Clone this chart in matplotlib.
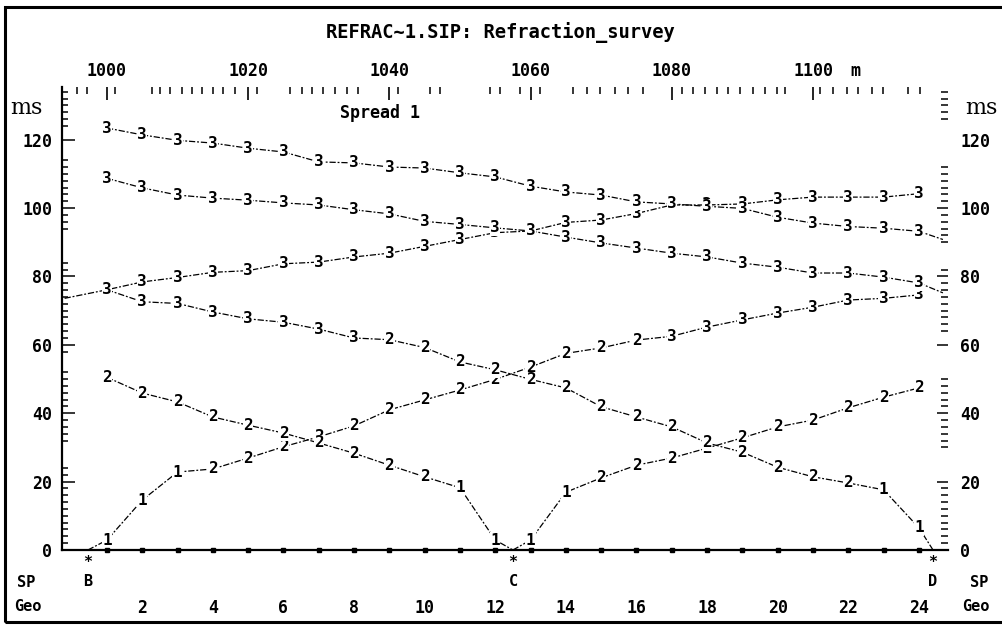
"""Refraction survey traveltime plot (first arrivals, spread 1).

Saves out.png: picks for each shot drawn as the refractor number (1/2/3)
joined by thin dashed lines, geophone stations along the bottom.
"""

import matplotlib

matplotlib.use("Agg")
import matplotlib.pyplot as plt
from matplotlib.patches import Rectangle

# --- data ---------------------------------------------------------------
# geophone stations, number and distance along the line (m)
GEO_NUM = [1, 2, 3, 4, 5, 6, 7, 8, 9, 10, 11, 12,
           13, 14, 15, 16, 17, 18, 19, 20, 21, 22, 23, 24]
GEO_X = [1000, 1005, 1010, 1015, 1020, 1025, 1030, 1035, 1040, 1045, 1050, 1055,
         1060, 1065, 1070, 1075, 1080, 1085, 1090, 1095, 1100, 1105, 1110, 1115]

# shot points inside the spread
SHOT_NAME = ["B", "C", "D"]
SHOT_X = [997.3, 1057.5, 1117.0]

# where the offset-shot branches leave the frame (m)
LEFT_EDGE_X = 994.0
RIGHT_EDGE_X = 1118.4

# traveltimes in ms; the digit string gives the refractor of each pick
# shot B -> forward, geophones 1..24
B_FWD_T = [2.9, 14.6, 22.8, 23.7, 26.9, 30.2, 33.1, 36.3, 41.0, 43.9, 46.8, 49.9,
           53.5, 57.5, 59.1, 61.4, 62.5, 65.2, 67.3, 69.3, 71.0, 73.1, 73.6, 74.6]
B_FWD_L = "111222222222222233333333"

# shot C -> reverse, geophones 1..12
C_REV_T = [50.5, 45.9, 43.3, 38.9, 36.5, 34.2, 31.3, 28.3, 24.8, 21.4, 18.2, 2.9]
C_REV_L = "222222222211"

# shot C -> forward, geophones 13..24
C_FWD_T = [2.9, 16.9, 21.1, 24.8, 26.9, 29.8, 32.8, 36.0, 38.0, 41.6, 44.7, 47.4]
C_FWD_L = "112222222222"

# shot D -> reverse, geophones 1..24
D_REV_T = [76.1, 72.6, 72.1, 69.6, 67.6, 66.6, 64.6, 62.0, 61.5, 59.2, 55.0, 52.7,
           49.9, 47.4, 41.9, 38.9, 36.0, 31.3, 28.6, 24.2, 21.4, 19.6, 17.6, 6.5]
D_REV_L = "333333332222222222222211"

# offset shot off the left end, geophones 1..24 (+ time at the frame edge)
W_FWD_T = [76.1, 78.4, 79.7, 81.2, 81.7, 83.7, 84.2, 85.7, 86.8, 88.8, 90.8, 92.8,
           93.3, 95.8, 96.5, 98.4, 100.9, 100.9, 101.2, 102.4, 103.2, 103.2, 103.2, 104.2]
W_EDGE_T = 73.6

# two offset shots off the right end, geophones 1..24 (+ time at the frame edge)
E1_REV_T = [123.4, 121.4, 119.8, 119.0, 117.5, 116.4, 113.5, 113.2, 112.0, 111.7, 110.3, 109.1,
            106.4, 104.7, 103.8, 101.8, 101.2, 100.5, 99.9, 97.3, 95.6, 94.6, 94.1, 93.2]
E1_EDGE_T = 90.8
E2_REV_T = [108.7, 105.9, 103.8, 102.9, 102.3, 101.5, 100.9, 99.5, 98.3, 96.1, 95.2, 94.2,
            93.3, 91.5, 89.8, 88.3, 86.8, 85.7, 83.9, 82.7, 81.0, 81.0, 79.8, 78.1]
E2_EDGE_T = 75.2

TOP_LABELS = [1000, 1020, 1040, 1060, 1080, 1100]
Y_LABELS = [0, 20, 40, 60, 80, 100, 120]

# --- style --------------------------------------------------------------
MONO = "DejaVu Sans Mono"
SERIF = "DejaVu Serif"
DASH = (0, (5, 1.5, 1.5, 1.5))
LAB = 12  # tick labels and screen texts

# top ruler is irregular on the original screen, keep its minor ticks as seen
TOP_MINOR = [995.8, 997.2, 1001.1, 1006.4, 1007.5, 1008.9, 1010.6, 1012.0, 1013.5,
             1015.0, 1016.4, 1018.1, 1021.2, 1025.9, 1027.6, 1029.0, 1030.6, 1032.3,
             1034.0, 1035.5, 1041.2, 1045.8, 1047.2, 1054.2, 1055.7, 1058.5, 1061.3,
             1066.0, 1068.0, 1069.8, 1072.0, 1073.8, 1075.9, 1081.4, 1083.0, 1084.7,
             1086.4, 1088.0, 1089.7, 1091.5, 1093.2, 1094.9, 1096.0, 1101.0, 1102.8,
             1104.8, 1106.4, 1108.4, 1109.9, 1113.5, 1115.2]


def ms_ticks(ranges):
    out = []
    for lo, hi in ranges:
        out += [v for v in range(lo, hi + 1, 2) if v % 20]
    return out


LEFT_MINOR = ms_ticks([(2, 24), (32, 52), (58, 84), (94, 114), (124, 134)])
RIGHT_MINOR = ms_ticks([(2, 20), (30, 50), (64, 82), (90, 112), (126, 134)])


def branch(ax, line_x, line_t, mark_x, mark_t, layers):
    ax.plot(line_x, line_t, color="black", lw=0.9, ls=DASH, zorder=2)
    for x, t, d in zip(mark_x, mark_t, layers):
        ax.text(x, t, d, ha="center", va="center", fontsize=11.5,
                fontweight="bold", family=MONO, zorder=3,
                bbox=dict(fc="white", ec="none", pad=0.2))


def bold_mono(labels):
    for lab in labels:
        lab.set_family(MONO)
        lab.set_fontweight("bold")


def main():
    fig = plt.figure(figsize=(10.02, 6.3), dpi=100, facecolor="white")
    ax = fig.add_axes([62 / 1002, 80 / 630, 886 / 1002, 463 / 630])
    ax.set_xlim(993.63, 1119.12)
    ax.set_ylim(0, 135.4)

    # traveltime branches
    branch(ax, [SHOT_X[0]] + GEO_X, [0] + B_FWD_T, GEO_X, B_FWD_T, B_FWD_L)
    branch(ax, GEO_X[:12] + [SHOT_X[1]], C_REV_T + [0], GEO_X[:12], C_REV_T, C_REV_L)
    branch(ax, [SHOT_X[1]] + GEO_X[12:], [0] + C_FWD_T, GEO_X[12:], C_FWD_T, C_FWD_L)
    branch(ax, GEO_X + [SHOT_X[2]], D_REV_T + [0], GEO_X, D_REV_T, D_REV_L)
    branch(ax, [LEFT_EDGE_X] + GEO_X, [W_EDGE_T] + W_FWD_T, GEO_X, W_FWD_T, "3" * 24)
    branch(ax, GEO_X + [RIGHT_EDGE_X], E1_REV_T + [E1_EDGE_T], GEO_X, E1_REV_T, "3" * 24)
    branch(ax, GEO_X + [RIGHT_EDGE_X], E2_REV_T + [E2_EDGE_T], GEO_X, E2_REV_T, "3" * 24)

    # geophone stations on the zero line
    ax.plot(GEO_X, [0] * len(GEO_X), ls="none", marker="s", ms=3.4,
            color="black", clip_on=False, zorder=4)

    # shot points under the axis
    xt = ax.get_xaxis_transform()
    for name, sx in zip(SHOT_NAME, SHOT_X):
        ax.text(sx, -0.028, "*", transform=xt, ha="center", va="center",
                fontsize=11, fontweight="bold", family=MONO)
        ax.text(sx, -0.069, name, transform=xt, ha="center", va="center",
                fontsize=11, fontweight="bold", family=MONO)

    # bottom: geophone numbers
    ax.set_xticks(GEO_X[1::2], [str(n) for n in GEO_NUM[1::2]])
    ax.tick_params(axis="x", length=0, pad=35, labelsize=LAB)

    # left: ms scale, ticks pointing in
    ax.set_yticks(Y_LABELS, [str(v) for v in Y_LABELS])
    ax.set_yticks(LEFT_MINOR, minor=True)
    ax.tick_params(axis="y", which="major", direction="in", length=9,
                   width=1.1, pad=7, labelsize=LAB)
    ax.tick_params(axis="y", which="minor", direction="in", length=4.5, width=1.1)
    for tk, v in zip(ax.yaxis.get_major_ticks(), Y_LABELS):
        if v in (0, 120):
            tk.tick1line.set_visible(False)
    bold_mono(ax.get_xticklabels() + ax.get_yticklabels())

    for side in ("top", "right"):
        ax.spines[side].set_visible(False)
    for side in ("left", "bottom"):
        ax.spines[side].set_linewidth(1.6)

    # right: same scale on a twin, with its own tick gaps
    ax2 = ax.twinx()
    ax2.set_ylim(ax.get_ylim())
    ax2.set_yticks(Y_LABELS, [str(v) for v in Y_LABELS])
    ax2.set_yticks(RIGHT_MINOR, minor=True)
    ax2.tick_params(axis="y", which="major", direction="in", length=8,
                    width=1.1, pad=9, labelsize=LAB)
    ax2.tick_params(axis="y", which="minor", direction="in", length=5, width=1.1)
    for tk, v in zip(ax2.yaxis.get_major_ticks(), Y_LABELS):
        if v in (0, 120):
            tk.tick2line.set_visible(False)
    bold_mono(ax2.get_yticklabels())
    for sp in ax2.spines.values():
        sp.set_visible(False)

    # top: distance ruler in metres
    top = ax.secondary_xaxis("top")
    top.set_xticks(TOP_LABELS, [str(v) for v in TOP_LABELS])
    top.set_xticks(TOP_MINOR, minor=True)
    top.tick_params(which="major", direction="in", length=9.5, width=1.2,
                    pad=5, labelsize=LAB)
    top.tick_params(which="minor", direction="in", length=5, width=1.1)
    bold_mono(top.get_xticklabels())
    top.spines["top"].set_visible(False)
    ax.text(1106, 1.035, "m", transform=xt, ha="center", va="center",
            fontsize=LAB, fontweight="bold", family=MONO)

    ax.text(1038.7, 0.944, "Spread 1", transform=xt, ha="center", va="center",
            fontsize=LAB, fontweight="bold", family=MONO)

    # texts around the frame
    fig.text(0.499, 0.948, "REFRAC~1.SIP: Refraction_survey", ha="center",
             va="center", fontsize=13.5, fontweight="bold", family=MONO)
    for x in (0.026, 0.979):
        fig.text(x, 0.8286, "ms", ha="center", va="center", fontsize=16,
                 family=SERIF)
    for x, y, s in ((0.026, 0.076, "SP"), (0.028, 0.038, "Geo"),
                    (0.977, 0.076, "SP"), (0.974, 0.038, "Geo")):
        fig.text(x, y, s, ha="center", va="center", fontsize=11,
                 fontweight="bold", family=MONO)

    # screen frame (right edge is cut off in the original)
    fig.add_artist(Rectangle((0.005, 0.013), 1.2, 0.976, transform=fig.transFigure,
                             fill=False, lw=2.2, ec="black"))

    fig.savefig("out.png", dpi=100, facecolor="white")


if __name__ == "__main__":
    main()
